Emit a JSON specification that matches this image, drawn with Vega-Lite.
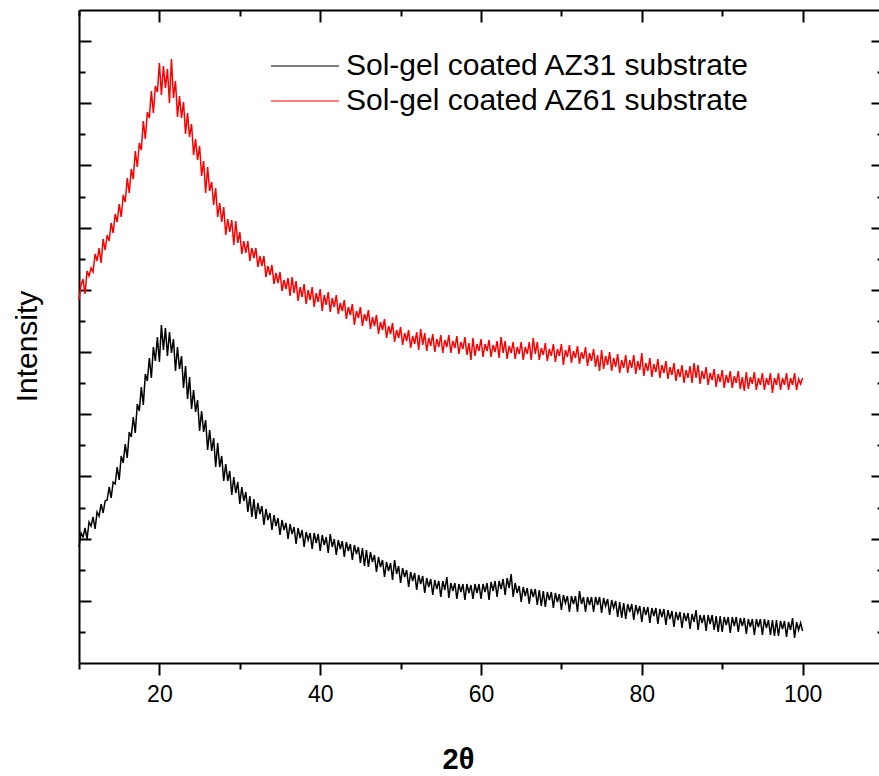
{
  "$schema": "https://vega.github.io/schema/vega-lite/v6.json",
  "width": 804,
  "height": 653,
  "autosize": {"type": "none"},
  "padding": {"left": 79, "top": 10, "right": 0, "bottom": 113},
  "background": "white",
  "config": {
    "view": {"stroke": null},
    "font": "Liberation Sans",
    "axis": {"domainColor": "black", "tickColor": "black", "domainWidth": 2, "tickWidth": 2, "grid": false, "labelColor": "black", "titleColor": "black"}
  },
  "layer": [
    {
      "data": {"values": [
        {"x":10,"a":116,"b":363},{"x":10.25,"a":130,"b":378},{"x":10.5,"a":126,"b":384},{"x":10.75,"a":135,"b":369},
        {"x":11,"a":124,"b":392},{"x":11.25,"a":141,"b":387},{"x":11.5,"a":137,"b":395},{"x":11.75,"a":146,"b":391},
        {"x":12,"a":134,"b":409},{"x":12.25,"a":151,"b":402},{"x":12.5,"a":147,"b":415},{"x":12.75,"a":159,"b":400},
        {"x":13,"a":150,"b":424},{"x":13.25,"a":162,"b":413},{"x":13.5,"a":163,"b":428},{"x":13.75,"a":176,"b":422},
        {"x":14,"a":165,"b":440},{"x":14.25,"a":181,"b":430},{"x":14.5,"a":179,"b":449},{"x":14.75,"a":196,"b":441},
        {"x":15,"a":183,"b":459},{"x":15.25,"a":207,"b":446},{"x":15.5,"a":200,"b":468},{"x":15.75,"a":219,"b":461},
        {"x":16,"a":205,"b":485},{"x":16.25,"a":231,"b":470},{"x":16.5,"a":226,"b":494},{"x":16.75,"a":246,"b":484},
        {"x":17,"a":230,"b":512},{"x":17.25,"a":259,"b":496},{"x":17.5,"a":252,"b":520},{"x":17.75,"a":276,"b":513},
        {"x":18,"a":258,"b":542},{"x":18.25,"a":289,"b":524},{"x":18.5,"a":282,"b":551},{"x":18.75,"a":305,"b":545},
        {"x":19,"a":285,"b":572},{"x":19.25,"a":316,"b":550},{"x":19.5,"a":302,"b":577},{"x":19.75,"a":326,"b":571},
        {"x":20,"a":301,"b":600},{"x":20.25,"a":338,"b":568},{"x":20.5,"a":313,"b":597},{"x":20.75,"a":335,"b":575},
        {"x":21,"a":307,"b":594},{"x":21.25,"a":331,"b":560},{"x":21.5,"a":310,"b":604},{"x":21.75,"a":324,"b":565},
        {"x":22,"a":292,"b":582},{"x":22.25,"a":316,"b":546},{"x":22.5,"a":294,"b":567},{"x":22.75,"a":307,"b":545},
        {"x":23,"a":275,"b":561},{"x":23.25,"a":297,"b":529},{"x":23.5,"a":264,"b":550},{"x":23.75,"a":286,"b":526},
        {"x":24,"a":254,"b":539},{"x":24.25,"a":273,"b":508},{"x":24.5,"a":251,"b":524},{"x":24.75,"a":263,"b":503},
        {"x":25,"a":232,"b":517},{"x":25.25,"a":252,"b":487},{"x":25.5,"a":231,"b":502},{"x":25.75,"a":243,"b":470},
        {"x":26,"a":213,"b":496},{"x":26.25,"a":233,"b":472},{"x":26.5,"a":212,"b":481},{"x":26.75,"a":225,"b":458},
        {"x":27,"a":196,"b":475},{"x":27.25,"a":220,"b":446},{"x":27.5,"a":196,"b":460},{"x":27.75,"a":207,"b":441},
        {"x":28,"a":182,"b":456},{"x":28.25,"a":199,"b":428},{"x":28.5,"a":182,"b":444},{"x":28.75,"a":192,"b":431},
        {"x":29,"a":168,"b":443},{"x":29.25,"a":186,"b":418},{"x":29.5,"a":170,"b":442},{"x":29.75,"a":181,"b":420},
        {"x":30,"a":159,"b":431},{"x":30.25,"a":176,"b":409},{"x":30.5,"a":162,"b":422},{"x":30.75,"a":171,"b":410},
        {"x":31,"a":151,"b":422},{"x":31.25,"a":167,"b":402},{"x":31.5,"a":146,"b":415},{"x":31.75,"a":164,"b":405},
        {"x":32,"a":144,"b":415},{"x":32.25,"a":160,"b":396},{"x":32.5,"a":149,"b":407},{"x":32.75,"a":157,"b":397},
        {"x":33,"a":138,"b":407},{"x":33.25,"a":154,"b":386},{"x":33.5,"a":143,"b":397},{"x":33.75,"a":150,"b":388},
        {"x":34,"a":133,"b":398},{"x":34.25,"a":148,"b":379},{"x":34.5,"a":137,"b":390},{"x":34.75,"a":145,"b":380},
        {"x":35,"a":128,"b":391},{"x":35.25,"a":143,"b":372},{"x":35.5,"a":133,"b":383},{"x":35.75,"a":140,"b":374},
        {"x":36,"a":124,"b":385},{"x":36.25,"a":139,"b":367},{"x":36.5,"a":129,"b":386},{"x":36.75,"a":136,"b":370},
        {"x":37,"a":119,"b":382},{"x":37.25,"a":135,"b":362},{"x":37.5,"a":125,"b":376},{"x":37.75,"a":133,"b":366},
        {"x":38,"a":116,"b":379},{"x":38.25,"a":131,"b":359},{"x":38.5,"a":123,"b":373},{"x":38.75,"a":130,"b":363},
        {"x":39,"a":114,"b":376},{"x":39.25,"a":130,"b":356},{"x":39.5,"a":120,"b":370},{"x":39.75,"a":129,"b":361},
        {"x":40,"a":112,"b":374},{"x":40.25,"a":128,"b":352},{"x":40.5,"a":118,"b":368},{"x":40.75,"a":126,"b":358},
        {"x":41,"a":110,"b":371},{"x":41.25,"a":129,"b":351},{"x":41.5,"a":116,"b":365},{"x":41.75,"a":124,"b":356},
        {"x":42,"a":108,"b":368},{"x":42.25,"a":123,"b":349},{"x":42.5,"a":114,"b":360},{"x":42.75,"a":122,"b":352},
        {"x":43,"a":106,"b":363},{"x":43.25,"a":121,"b":344},{"x":43.5,"a":112,"b":356},{"x":43.75,"a":119,"b":348},
        {"x":44,"a":103,"b":359},{"x":44.25,"a":118,"b":338},{"x":44.5,"a":109,"b":352},{"x":44.75,"a":116,"b":345},
        {"x":45,"a":100,"b":356},{"x":45.25,"a":115,"b":337},{"x":45.5,"a":97,"b":349},{"x":45.75,"a":113,"b":342},
        {"x":46,"a":96,"b":353},{"x":46.25,"a":111,"b":334},{"x":46.5,"a":101,"b":346},{"x":46.75,"a":108,"b":337},
        {"x":47,"a":91,"b":348},{"x":47.25,"a":106,"b":329},{"x":47.5,"a":96,"b":341},{"x":47.75,"a":103,"b":333},
        {"x":48,"a":86,"b":344},{"x":48.25,"a":101,"b":325},{"x":48.5,"a":92,"b":337},{"x":48.75,"a":100,"b":329},
        {"x":49,"a":83,"b":340},{"x":49.25,"a":103,"b":321},{"x":49.5,"a":89,"b":333},{"x":49.75,"a":97,"b":325},
        {"x":50,"a":80,"b":336},{"x":50.25,"a":95,"b":318},{"x":50.5,"a":86,"b":330},{"x":50.75,"a":93,"b":322},
        {"x":51,"a":76,"b":333},{"x":51.25,"a":91,"b":315},{"x":51.5,"a":82,"b":327},{"x":51.75,"a":90,"b":319},
        {"x":52,"a":73,"b":331},{"x":52.25,"a":88,"b":313},{"x":52.5,"a":79,"b":334},{"x":52.75,"a":87,"b":318},
        {"x":53,"a":70,"b":330},{"x":53.25,"a":85,"b":312},{"x":53.5,"a":76,"b":325},{"x":53.75,"a":84,"b":317},
        {"x":54,"a":68,"b":329},{"x":54.25,"a":83,"b":311},{"x":54.5,"a":74,"b":324},{"x":54.75,"a":82,"b":316},
        {"x":55,"a":66,"b":328},{"x":55.25,"a":82,"b":310},{"x":55.5,"a":73,"b":323},{"x":55.75,"a":86,"b":316},
        {"x":56,"a":65,"b":328},{"x":56.25,"a":80,"b":310},{"x":56.5,"a":72,"b":322},{"x":56.75,"a":80,"b":315},
        {"x":57,"a":64,"b":327},{"x":57.25,"a":79,"b":309},{"x":57.5,"a":71,"b":321},{"x":57.75,"a":79,"b":314},
        {"x":58,"a":63,"b":326},{"x":58.25,"a":79,"b":308},{"x":58.5,"a":70,"b":320},{"x":58.75,"a":78,"b":303},
        {"x":59,"a":64,"b":325},{"x":59.25,"a":79,"b":307},{"x":59.5,"a":70,"b":319},{"x":59.75,"a":79,"b":312},
        {"x":60,"a":64,"b":324},{"x":60.25,"a":79,"b":306},{"x":60.5,"a":71,"b":319},{"x":60.75,"a":80,"b":312},
        {"x":61,"a":63,"b":323},{"x":61.25,"a":81,"b":306},{"x":61.5,"a":72,"b":318},{"x":61.75,"a":82,"b":311},
        {"x":62,"a":66,"b":322},{"x":62.25,"a":82,"b":305},{"x":62.5,"a":74,"b":326},{"x":62.75,"a":84,"b":310},
        {"x":63,"a":68,"b":322},{"x":63.25,"a":85,"b":304},{"x":63.5,"a":75,"b":317},{"x":63.75,"a":89,"b":310},
        {"x":64,"a":66,"b":321},{"x":64.25,"a":80,"b":304},{"x":64.5,"a":70,"b":316},{"x":64.75,"a":77,"b":309},
        {"x":65,"a":61,"b":321},{"x":65.25,"a":76,"b":303},{"x":65.5,"a":67,"b":316},{"x":65.75,"a":75,"b":309},
        {"x":66,"a":59,"b":321},{"x":66.25,"a":74,"b":303},{"x":66.5,"a":66,"b":325},{"x":66.75,"a":74,"b":309},
        {"x":67,"a":58,"b":321},{"x":67.25,"a":73,"b":303},{"x":67.5,"a":57,"b":315},{"x":67.75,"a":72,"b":308},
        {"x":68,"a":56,"b":320},{"x":68.25,"a":71,"b":302},{"x":68.5,"a":63,"b":314},{"x":68.75,"a":71,"b":307},
        {"x":69,"a":55,"b":319},{"x":69.25,"a":70,"b":301},{"x":69.5,"a":61,"b":314},{"x":69.75,"a":69,"b":307},
        {"x":70,"a":53,"b":319},{"x":70.25,"a":68,"b":298},{"x":70.5,"a":60,"b":313},{"x":70.75,"a":67,"b":306},
        {"x":71,"a":51,"b":318},{"x":71.25,"a":67,"b":300},{"x":71.5,"a":59,"b":312},{"x":71.75,"a":67,"b":305},
        {"x":72,"a":51,"b":317},{"x":72.25,"a":72,"b":299},{"x":72.5,"a":59,"b":311},{"x":72.75,"a":66,"b":304},
        {"x":73,"a":51,"b":316},{"x":73.25,"a":66,"b":297},{"x":73.5,"a":58,"b":310},{"x":73.75,"a":66,"b":302},
        {"x":74,"a":51,"b":314},{"x":74.25,"a":66,"b":296},{"x":74.5,"a":58,"b":308},{"x":74.75,"a":66,"b":292},
        {"x":75,"a":50,"b":313},{"x":75.25,"a":65,"b":294},{"x":75.5,"a":57,"b":307},{"x":75.75,"a":64,"b":298},
        {"x":76,"a":48,"b":311},{"x":76.25,"a":63,"b":292},{"x":76.5,"a":55,"b":305},{"x":76.75,"a":62,"b":296},
        {"x":77,"a":46,"b":309},{"x":77.25,"a":61,"b":290},{"x":77.5,"a":45,"b":303},{"x":77.75,"a":60,"b":295},
        {"x":78,"a":44,"b":308},{"x":78.25,"a":59,"b":290},{"x":78.5,"a":51,"b":303},{"x":78.75,"a":59,"b":295},
        {"x":79,"a":43,"b":308},{"x":79.25,"a":58,"b":289},{"x":79.5,"a":50,"b":302},{"x":79.75,"a":57,"b":293},
        {"x":80,"a":41,"b":310},{"x":80.25,"a":56,"b":287},{"x":80.5,"a":48,"b":300},{"x":80.75,"a":56,"b":292},
        {"x":81,"a":40,"b":305},{"x":81.25,"a":55,"b":286},{"x":81.5,"a":47,"b":299},{"x":81.75,"a":55,"b":291},
        {"x":82,"a":39,"b":304},{"x":82.25,"a":54,"b":285},{"x":82.5,"a":46,"b":298},{"x":82.75,"a":54,"b":290},
        {"x":83,"a":38,"b":302},{"x":83.25,"a":53,"b":284},{"x":83.5,"a":44,"b":296},{"x":83.75,"a":52,"b":288},
        {"x":84,"a":36,"b":300},{"x":84.25,"a":51,"b":282},{"x":84.5,"a":43,"b":294},{"x":84.75,"a":51,"b":286},
        {"x":85,"a":35,"b":298},{"x":85.25,"a":50,"b":280},{"x":85.5,"a":42,"b":293},{"x":85.75,"a":50,"b":285},
        {"x":86,"a":34,"b":297},{"x":86.25,"a":49,"b":280},{"x":86.5,"a":41,"b":300},{"x":86.75,"a":53,"b":285},
        {"x":87,"a":33,"b":298},{"x":87.25,"a":48,"b":279},{"x":87.5,"a":40,"b":292},{"x":87.75,"a":48,"b":284},
        {"x":88,"a":32,"b":296},{"x":88.25,"a":48,"b":278},{"x":88.5,"a":39,"b":290},{"x":88.75,"a":48,"b":283},
        {"x":89,"a":33,"b":294},{"x":89.25,"a":47,"b":276},{"x":89.5,"a":31,"b":289},{"x":89.75,"a":47,"b":281},
        {"x":90,"a":31,"b":293},{"x":90.25,"a":46,"b":275},{"x":90.5,"a":38,"b":288},{"x":90.75,"a":46,"b":280},
        {"x":91,"a":30,"b":292},{"x":91.25,"a":46,"b":275},{"x":91.5,"a":37,"b":287},{"x":91.75,"a":46,"b":280},
        {"x":92,"a":31,"b":292},{"x":92.25,"a":45,"b":274},{"x":92.5,"a":37,"b":286},{"x":92.75,"a":45,"b":272},
        {"x":93,"a":29,"b":291},{"x":93.25,"a":44,"b":274},{"x":93.5,"a":36,"b":286},{"x":93.75,"a":44,"b":279},
        {"x":94,"a":28,"b":291},{"x":94.25,"a":44,"b":273},{"x":94.5,"a":36,"b":285},{"x":94.75,"a":44,"b":278},
        {"x":95,"a":28,"b":290},{"x":95.25,"a":44,"b":273},{"x":95.5,"a":35,"b":285},{"x":95.75,"a":43,"b":278},
        {"x":96,"a":28,"b":290},{"x":96.25,"a":43,"b":270},{"x":96.5,"a":27,"b":285},{"x":96.75,"a":43,"b":278},
        {"x":97,"a":27,"b":290},{"x":97.25,"a":42,"b":273},{"x":97.5,"a":34,"b":285},{"x":97.75,"a":42,"b":278},
        {"x":98,"a":26,"b":290},{"x":98.25,"a":41,"b":273},{"x":98.5,"a":33,"b":285},{"x":98.75,"a":45,"b":278},
        {"x":99,"a":25,"b":290},{"x":99.25,"a":41,"b":273},{"x":99.5,"a":33,"b":284},{"x":99.75,"a":40,"b":279},
        {"x":100,"a":32,"b":285}
      ]},
      "transform": [{"fold": ["a", "b"], "as": ["s", "h"]}],
      "mark": {"type": "line", "strokeWidth": 1.5},
      "encoding": {
        "x": {"field": "x", "type": "quantitative", "scale": {"domain": [10, 110], "nice": false},
          "axis": {"orient": "bottom", "values": [20, 40, 60, 80, 100], "tickSize": 12, "labelFontSize": 23, "labelPadding": 8,
            "title": "2θ", "titleFontSize": 29, "titleFontWeight": "bold", "titleX": 379, "titleY": 105, "titleBaseline": "alphabetic", "titleAlign": "center"}},
        "y": {"field": "h", "type": "quantitative", "scale": {"domain": [0, 653], "nice": false},
          "axis": {"orient": "left", "values": [62.19, 124.38, 186.57, 248.76, 310.95, 373.14, 435.33, 497.52, 559.71, 621.9], "tickSize": -12, "labels": false,
            "title": "Intensity", "titleFontSize": 30, "titleFontWeight": "normal", "titleAngle": -90, "titleX": -43, "titleY": 336, "titleBaseline": "alphabetic", "titleAlign": "center"}},
        "color": {"field": "s", "type": "nominal", "scale": {"domain": ["a", "b"], "range": ["#000000", "#ff0000"]},
          "legend": {"orient": "none", "legendX": 208, "legendY": 38, "title": null, "padding": 0, "symbolType": "M-2,0L2,0", "symbolSize": 1156, "symbolStrokeWidth": 1.2,
            "labelFontSize": 30, "labelColor": "black", "labelOffset": 23, "labelLimit": 700, "rowPadding": 2,
            "labelExpr": "datum.label == 'a' ? 'Sol-gel coated AZ31 substrate' : 'Sol-gel coated AZ61 substrate'"}}
      }
    },
    {
      "data": {"values": [{"x": 10, "h": 0}]},
      "mark": {"type": "point", "opacity": 0},
      "encoding": {
        "x": {"field": "x", "type": "quantitative", "scale": {"domain": [10, 110], "nice": false},
          "axis": {"orient": "bottom", "values": [10, 30, 50, 70, 90, 110], "tickSize": 6, "labels": false, "domain": false, "title": null}},
        "y": {"field": "h", "type": "quantitative", "scale": {"domain": [0, 653], "nice": false},
          "axis": {"orient": "left", "values": [31.1, 93.29, 155.48, 217.67, 279.86, 342.05, 404.24, 466.43, 528.62, 590.81], "tickSize": -6, "labels": false, "domain": false, "title": null}}
      }
    },
    {
      "data": {"values": [{"x": 10, "h": 0}]},
      "mark": {"type": "point", "opacity": 0},
      "encoding": {
        "x": {"field": "x", "type": "quantitative", "scale": {"domain": [10, 110], "nice": false},
          "axis": {"orient": "bottom", "offset": -653, "values": [20, 40, 60, 80, 100], "tickSize": 12, "labels": false, "title": null}},
        "y": {"field": "h", "type": "quantitative", "scale": {"domain": [0, 653], "nice": false},
          "axis": {"orient": "right", "values": [62.19, 124.38, 186.57, 248.76, 310.95, 373.14, 435.33, 497.52, 559.71, 621.9], "tickSize": -12, "labels": false, "title": null}}
      }
    },
    {
      "data": {"values": [{"x": 10, "h": 0}]},
      "mark": {"type": "point", "opacity": 0},
      "encoding": {
        "x": {"field": "x", "type": "quantitative", "scale": {"domain": [10, 110], "nice": false},
          "axis": {"orient": "bottom", "offset": -653, "values": [10, 30, 50, 70, 90, 110], "tickSize": 6, "labels": false, "domain": false, "title": null}},
        "y": {"field": "h", "type": "quantitative", "scale": {"domain": [0, 653], "nice": false},
          "axis": {"orient": "right", "values": [31.1, 93.29, 155.48, 217.67, 279.86, 342.05, 404.24, 466.43, 528.62, 590.81], "tickSize": -6, "labels": false, "domain": false, "title": null}}
      }
    }
  ],
  "resolve": {"axis": {"x": "independent", "y": "independent"}}
}
